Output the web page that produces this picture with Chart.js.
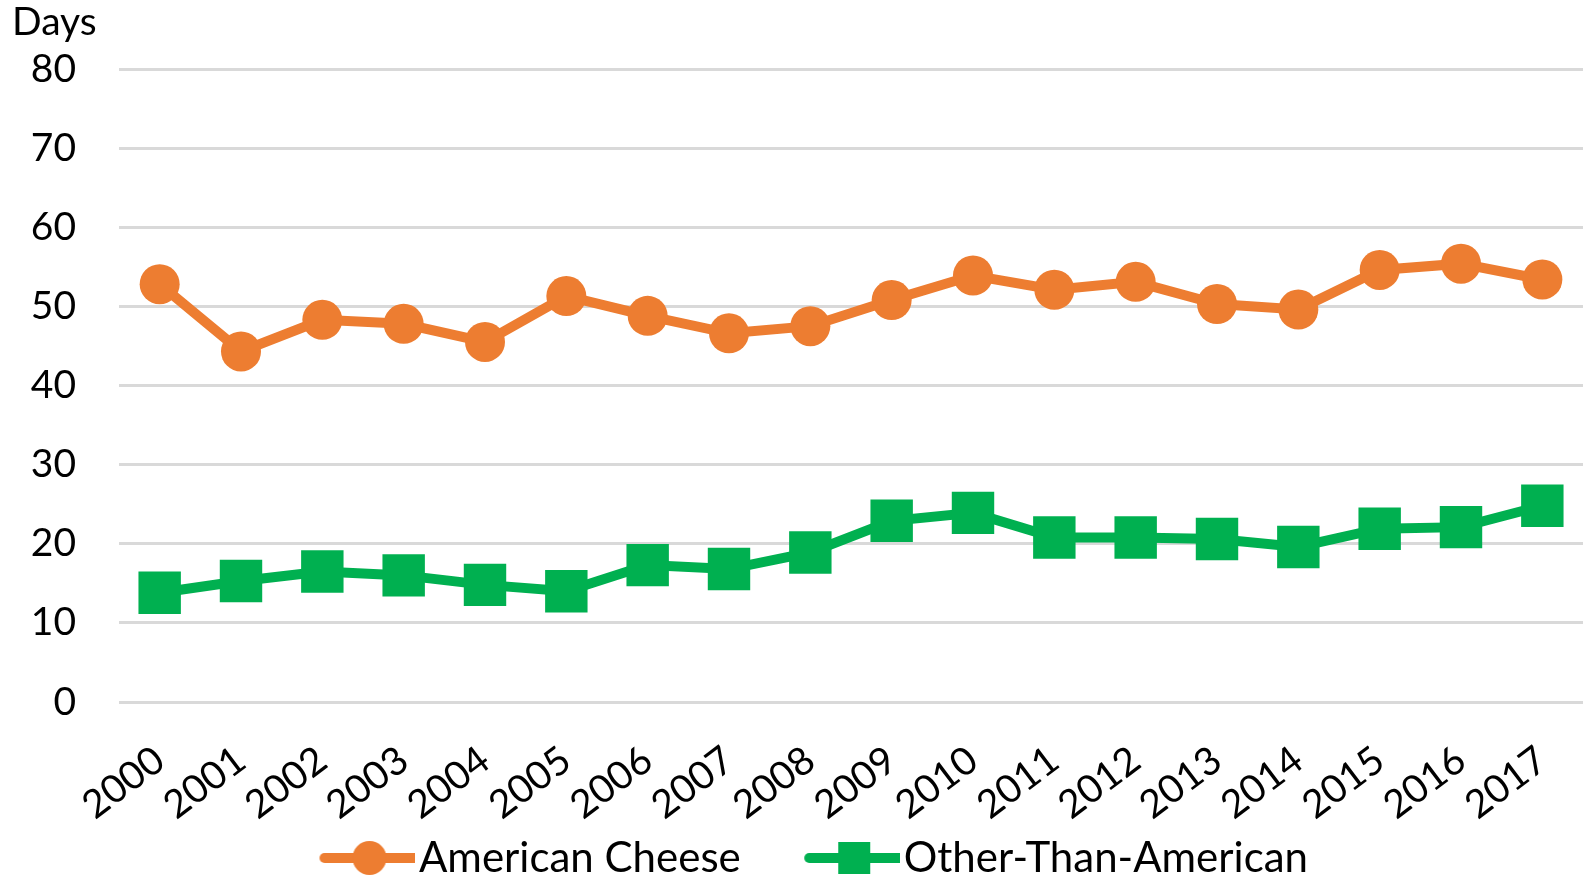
<!DOCTYPE html>
<html>
<head>
<meta charset="utf-8">
<script src="https://cdn.jsdelivr.net/npm/chart.js@4.4.1/dist/chart.umd.min.js"></script>
<style>
  html, body { margin: 0; padding: 0; background: #fff; overflow: hidden; }
  #wrap { width: 1586px; height: 883px; position: relative; }
  #chart { display: block; }
</style>
</head>
<body>
<div id="wrap"><canvas id="chart"></canvas></div>
<script>
// datos
const years = ['2000','2001','2002','2003','2004','2005','2006','2007','2008','2009','2010','2011','2012','2013','2014','2015','2016','2017'];
const americanCheese = [52.8, 44.3, 48.3, 47.8, 45.5, 51.3, 48.8, 46.6, 47.5, 50.8, 53.9, 52.1, 53.1, 50.3, 49.6, 54.6, 55.4, 53.4];
const otherThanAmerican = [13.8, 15.3, 16.5, 16.0, 14.8, 14.0, 17.3, 16.8, 18.9, 22.9, 23.9, 20.8, 20.8, 20.6, 19.6, 21.9, 22.1, 24.8];
const yTicks = [0, 10, 20, 30, 40, 50, 60, 70, 80];

const ORANGE = '#ED7D31';
const GREEN = '#00B050';
const FONT = 'Lato, "Open Sans", sans-serif';

// icono de leyenda estilo Excel: linea con marcador al centro
// (la parte izquierda transparente sirve de separacion entre items)
function legendIcon(color, shape) {
  const c = document.createElement('canvas');
  const L = 80;
  c.width = 172; c.height = 36;
  const ctx = c.getContext('2d');
  ctx.strokeStyle = color;
  ctx.lineWidth = 10;
  ctx.lineCap = 'round';
  ctx.beginPath();
  ctx.moveTo(L + 1, 18); ctx.lineTo(L + 91, 18);
  ctx.stroke();
  ctx.fillStyle = color;
  if (shape === 'circle') {
    ctx.beginPath();
    ctx.arc(L + 46, 18, 17, 0, Math.PI * 2);
    ctx.fill();
  } else {
    ctx.fillRect(L + 30, 2, 32, 32);
  }
  return c;
}

// texto "Days" arriba a la izquierda
const daysLabel = {
  id: 'daysLabel',
  afterLayout(chart) {
    // ajustar la posicion de la leyenda
    chart.legend.left -= 7;
    chart.legend.right -= 7;
    chart.legend.top += 6;
    chart.legend.bottom += 6;
  },
  afterDraw(chart) {
    const ctx = chart.ctx;
    ctx.save();
    ctx.font = '39px ' + FONT;
    ctx.fillStyle = '#000';
    ctx.textBaseline = 'alphabetic';
    ctx.fillText('Days', 12, 35);
    ctx.restore();
  }
};

new Chart(document.getElementById('chart'), {
  type: 'line',
  data: {
    labels: years,
    datasets: [{
      label: 'American Cheese',
      data: americanCheese,
      borderColor: ORANGE,
      backgroundColor: ORANGE,
      borderWidth: 10,
      pointStyle: 'circle',
      pointRadius: 20,
      pointBorderWidth: 0,
      tension: 0
    }, {
      label: 'Other-Than-American',
      data: otherThanAmerican,
      borderColor: GREEN,
      backgroundColor: GREEN,
      borderWidth: 10,
      pointStyle: 'rect',
      pointRadius: 30,
      pointBorderWidth: 0,
      tension: 0
    }]
  },
  options: {
    responsive: true,
    maintainAspectRatio: false,
    animation: false,
    layout: { autoPadding: false, padding: { top: 69, right: 3, left: 0, bottom: 0 } },
    plugins: {
      tooltip: { enabled: false },
      legend: {
        position: 'bottom',
        labels: {
          usePointStyle: true,
          pointStyleWidth: 137,
          boxHeight: 36,
          padding: 5,
          color: '#000',
          font: { family: FONT, size: 42 },
          generateLabels(chart) {
            return chart.data.datasets.map((ds, i) => ({
              text: ds.label,
              pointStyle: legendIcon(ds.borderColor, i === 0 ? 'circle' : 'rect'),
              fillStyle: ds.borderColor,
              strokeStyle: ds.borderColor,
              lineWidth: 0,
              fontColor: '#000',
              datasetIndex: i
            }));
          }
        }
      }
    },
    scales: {
      x: {
        offset: true,
        afterFit(scale) { scale.height = 124; },
        // marcas invisibles para separar las etiquetas del eje
        grid: { display: true, drawOnChartArea: false, drawTicks: true, tickLength: 35, tickColor: 'rgba(0,0,0,0)' },
        border: { display: false },
        ticks: {
          color: '#000',
          font: { family: FONT, size: 39 },
          minRotation: 37,
          maxRotation: 37,
          padding: 0,
          autoSkip: false
        }
      },
      y: {
        min: 0,
        max: 80,
        afterFit(scale) { scale.width = 119; },
        afterBuildTicks(scale) { scale.ticks = yTicks.map(v => ({ value: v })); },
        grid: { color: '#d9d9d9', lineWidth: 3, drawTicks: false },
        border: { display: false },
        ticks: {
          color: '#000',
          font: { family: FONT, size: 39 },
          padding: 43
        }
      }
    }
  },
  plugins: [daysLabel]
});
</script>
</body>
</html>
